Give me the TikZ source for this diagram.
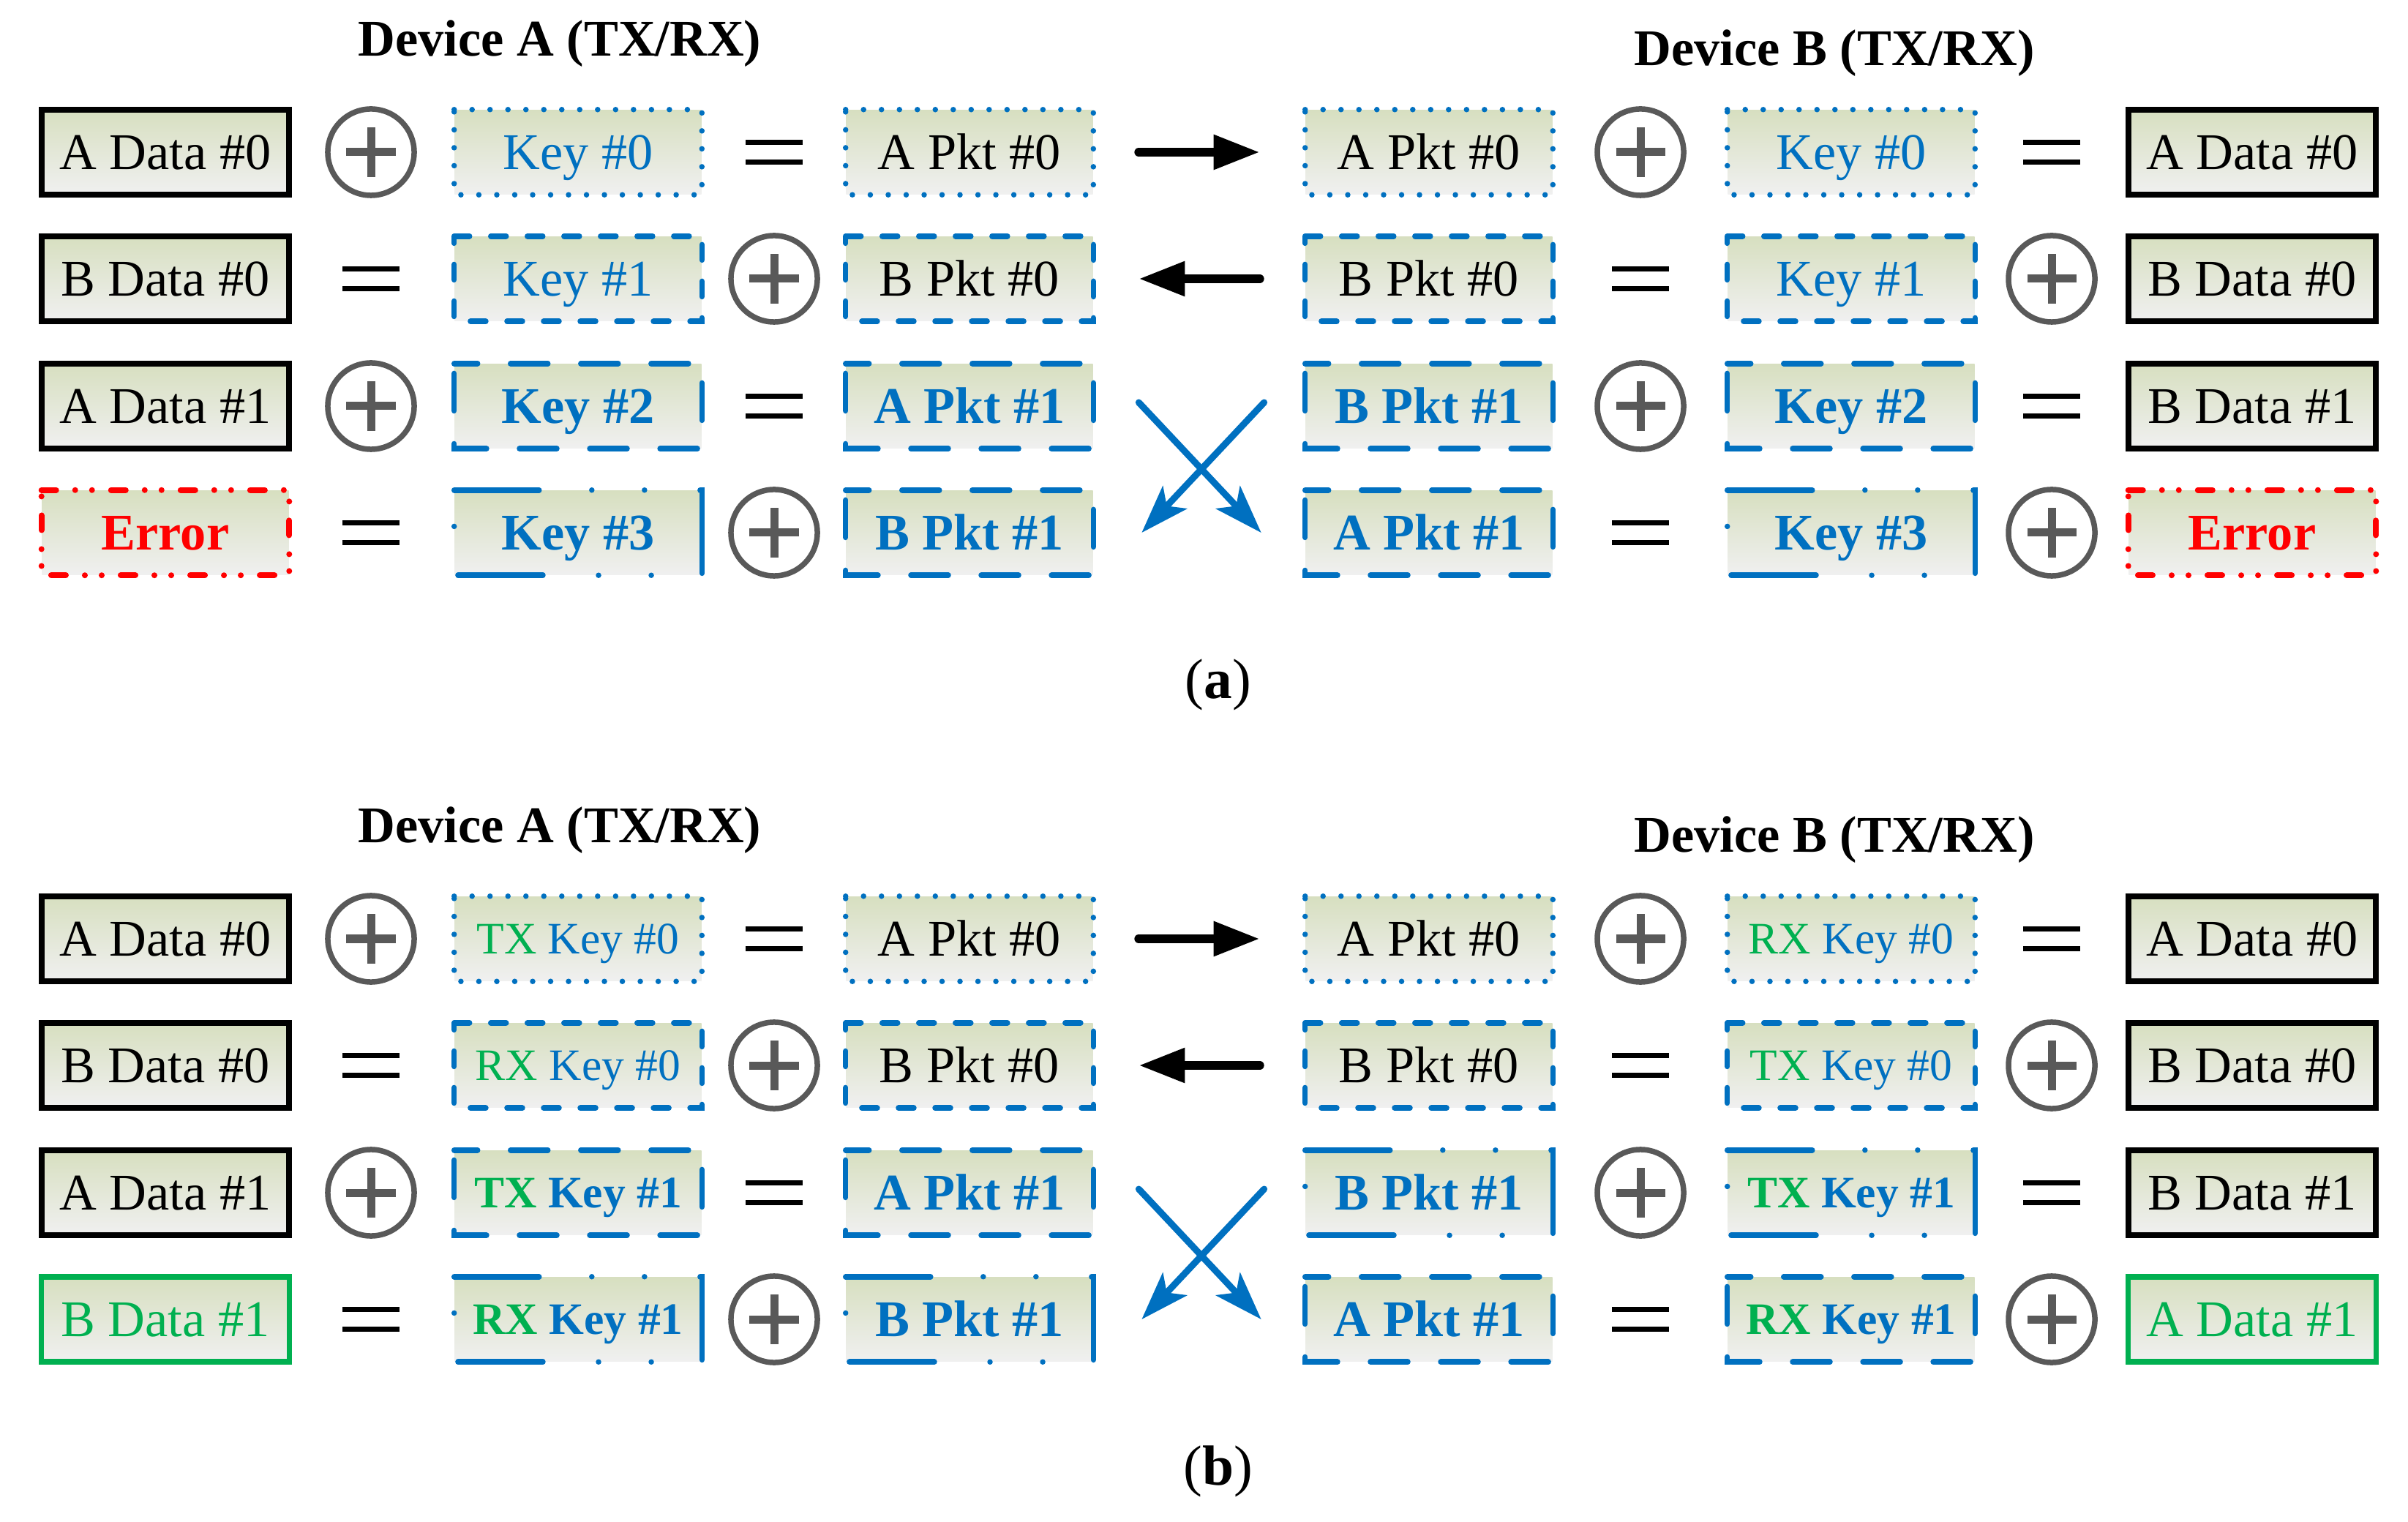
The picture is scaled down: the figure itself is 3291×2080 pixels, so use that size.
\documentclass[tikz,border=0pt]{standalone}
\usepackage{fontspec}
\setmainfont{Liberation Serif}
\usetikzlibrary{arrows.meta,calc}
\definecolor{keyBlue}{HTML}{0070C0}
\definecolor{okGreen}{HTML}{00B050}
\definecolor{errRed}{HTML}{FF0000}
\definecolor{opGrey}{HTML}{595959}
\definecolor{boxTop}{HTML}{D7DFC0}
\definecolor{boxBot}{HTML}{F0F0F0}

\tikzset{
  cellbox/.style={rectangle, inner sep=0pt, minimum width=3.37cm, minimum height=1.15cm,
    text height=0.47cm, text depth=0pt, top color=boxTop, bottom color=boxBot,
    font=\fontsize{20}{24}\selectfont},
  keyText/.style={text=keyBlue},
  boldBlue/.style={text=keyBlue, font=\fontsize{20}{24}\selectfont\bfseries},
  smallKey/.style={text=keyBlue, font=\fontsize{17.5}{21}\selectfont, text height=0.41cm},
  smallKeyBold/.style={text=keyBlue, font=\fontsize{17.5}{21}\selectfont\bfseries, text height=0.41cm},
  errText/.style={text=errRed, font=\fontsize{20}{24}\selectfont\bfseries},
  okText/.style={text=okGreen},
  dataLine/.style={line width=0.08cm, draw=black},
  okLine/.style={line width=0.075cm, draw=okGreen},
  dotLine/.style={line width=0.075cm, draw=keyBlue, line cap=round, dash pattern=on 0pt off 0.245cm},
  shortLine/.style={line width=0.075cm, draw=keyBlue, line cap=round, dash pattern=on 0.21cm off 0.29cm},
  longLine/.style={line width=0.075cm, draw=keyBlue, line cap=round, dash pattern=on 0.51cm off 0.45cm, dash phase=0.19cm},
  ddotLine/.style={line width=0.075cm, draw=keyBlue, line cap=round,
    dash pattern=on 1.16cm off 0.72cm on 0pt off 0.72cm on 0pt off 0.76cm},
  errLine/.style={line width=0.08cm, draw=errRed, line cap=round,
    dash pattern=on 0.2cm off 0.26cm on 0pt off 0.23cm on 0pt off 0.26cm},
  xorOp/.style={circle, inner sep=0pt, minimum size=1.18cm, draw=opGrey, line width=0.075cm},
  eqOp/.style={rectangle, inner sep=0pt, minimum width=0.76cm, minimum height=0.26cm},
  sendArrow/.style={line width=0.12cm, line cap=round, -{Triangle[length=0.63cm, width=0.45cm]},
    shorten <=0.62cm, shorten >=0.62cm},
  crossArrow/.style={keyBlue, line width=0.09cm, line cap=round,
    -{Stealth[length=0.66cm, width=0.45cm, inset=0.16cm]}},
  devTitle/.style={font=\fontsize{20}{24}\selectfont\bfseries, anchor=base},
  subCap/.style={font=\fontsize{22}{26}\selectfont},
}

% shaded box, border traced clockwise from its top-left corner
\newcommand{\cellnode}[5][]{%
  \node[cellbox,#1] (#2) at (#3) {#5};
  \draw[#4] (#2.north west) -- (#2.north east) -- (#2.south east)
    -- (#2.south west) -- cycle;}
\newcommand{\opXor}[2]{%
  \node[xorOp] (#1) at (#2) {};
  \draw[opGrey, line width=0.11cm] (#1.center) ++(-0.335cm,0pt) -- ++(0.67cm,0pt);
  \draw[opGrey, line width=0.11cm] (#1.center) ++(0pt,-0.335cm) -- ++(0pt,0.67cm);}
\newcommand{\opEq}[2]{%
  \node[eqOp] (#1) at (#2) {};
  \draw[line width=0.075cm] (#1.north west) -- (#1.north east);
  \draw[line width=0.075cm] (#1.south west) -- (#1.south east);}

\begin{document}
\begin{tikzpicture}[x=0.01cm, y=-0.01cm]
\useasboundingbox (0,0) rectangle (3291,2080);

% --- COLUMN CENTRES (px of the 3291 x 2080 canvas) ---
\def\xDa{226}  \def\xOa{507}  \def\xKa{790}  \def\xOb{1058} \def\xPa{1325}
\def\xPb{1953} \def\xOc{2242} \def\xKb{2530} \def\xOd{2804} \def\xDb{3078}

% --- PARTS (a) AND (b): shared layout ---
\foreach \p/\dy/\bpk in {a/0/longLine, b/1075/ddotLine} {
  \node[devTitle] (\p-devA) at (765, 77+\dy) {Device A (TX/RX)};
  \node[devTitle] (\p-devB) at (2507, 90+\dy) {Device B (TX/RX)};
  \node[subCap] (\p-cap) at (1665, 936+\dy) {(\textbf{\p})};

  % operators: XOR and EQUAL swap places row by row
  \foreach \r/\y in {1/208, 2/381, 3/555, 4/728} {
    \ifodd\r
      \opXor{\p-opL\r}{\xOa, \y+\dy} \opEq{\p-eqL\r}{\xOb, \y+\dy}
      \opXor{\p-opR\r}{\xOc, \y+\dy} \opEq{\p-eqR\r}{\xOd, \y+\dy}
    \else
      \opEq{\p-eqL\r}{\xOa, \y+\dy} \opXor{\p-opL\r}{\xOb, \y+\dy}
      \opEq{\p-eqR\r}{\xOc, \y+\dy} \opXor{\p-opR\r}{\xOd, \y+\dy}
    \fi
  }

  % data
  \cellnode{\p-dataL1}{\xDa, 208+\dy}{dataLine}{A Data \#0}
  \cellnode{\p-dataL2}{\xDa, 381+\dy}{dataLine}{B Data \#0}
  \cellnode{\p-dataL3}{\xDa, 555+\dy}{dataLine}{A Data \#1}
  \cellnode{\p-dataR1}{\xDb, 208+\dy}{dataLine}{A Data \#0}
  \cellnode{\p-dataR2}{\xDb, 381+\dy}{dataLine}{B Data \#0}
  \cellnode{\p-dataR3}{\xDb, 555+\dy}{dataLine}{B Data \#1}

  % packets
  \cellnode{\p-pktL1}{\xPa, 208+\dy}{dotLine}{A Pkt \#0}
  \cellnode{\p-pktR1}{\xPb, 208+\dy}{dotLine}{A Pkt \#0}
  \cellnode{\p-pktL2}{\xPa, 381+\dy}{shortLine}{B Pkt \#0}
  \cellnode{\p-pktR2}{\xPb, 381+\dy}{shortLine}{B Pkt \#0}
  \cellnode[boldBlue]{\p-pktL3}{\xPa, 555+\dy}{longLine}{A Pkt \#1}
  \cellnode[boldBlue]{\p-pktR3}{\xPb, 555+\dy}{\bpk}{B Pkt \#1}
  \cellnode[boldBlue]{\p-pktL4}{\xPa, 728+\dy}{\bpk}{B Pkt \#1}
  \cellnode[boldBlue]{\p-pktR4}{\xPb, 728+\dy}{longLine}{A Pkt \#1}

  % links
  \draw[sendArrow] (\p-pktL1.east) -- (\p-pktR1.west);
  \draw[sendArrow] (\p-pktR2.west) -- (\p-pktL2.east);
  \coordinate (\p-xA0) at ($(\p-pktL3.east)+(0.62cm,0.05cm)$);
  \coordinate (\p-xA1) at ($(\p-pktR4.west)+(-0.60cm,0pt)$);
  \coordinate (\p-xB0) at ($(\p-pktR3.west)+(-0.56cm,0.05cm)$);
  \coordinate (\p-xB1) at ($(\p-pktL4.east)+(0.66cm,0pt)$);
  \draw[crossArrow] (\p-xA0) -- (\p-xA1);
  \draw[crossArrow] (\p-xB0) -- (\p-xB1);
}

% --- (a) KEYS + LAST ROW ---
\cellnode[keyText]{a-keyL1}{\xKa, 208}{dotLine}{Key \#0}
\cellnode[keyText]{a-keyL2}{\xKa, 381}{shortLine}{Key \#1}
\cellnode[boldBlue]{a-keyL3}{\xKa, 555}{longLine}{Key \#2}
\cellnode[boldBlue]{a-keyL4}{\xKa, 728}{ddotLine}{Key \#3}
\cellnode[keyText]{a-keyR1}{\xKb, 208}{dotLine}{Key \#0}
\cellnode[keyText]{a-keyR2}{\xKb, 381}{shortLine}{Key \#1}
\cellnode[boldBlue]{a-keyR3}{\xKb, 555}{longLine}{Key \#2}
\cellnode[boldBlue]{a-keyR4}{\xKb, 728}{ddotLine}{Key \#3}
\cellnode[errText]{a-dataL4}{\xDa, 728}{errLine}{Error}
\cellnode[errText]{a-dataR4}{\xDb, 728}{errLine}{Error}

% --- (b) KEYS + LAST ROW ---
\cellnode[smallKey]{b-keyL1}{\xKa, 1283}{dotLine}{\textcolor{okGreen}{TX} Key \#0}
\cellnode[smallKey]{b-keyL2}{\xKa, 1456}{shortLine}{\textcolor{okGreen}{RX} Key \#0}
\cellnode[smallKeyBold]{b-keyL3}{\xKa, 1630}{longLine}{\textcolor{okGreen}{TX} Key \#1}
\cellnode[smallKeyBold]{b-keyL4}{\xKa, 1803}{ddotLine}{\textcolor{okGreen}{RX} Key \#1}
\cellnode[smallKey]{b-keyR1}{\xKb, 1283}{dotLine}{\textcolor{okGreen}{RX} Key \#0}
\cellnode[smallKey]{b-keyR2}{\xKb, 1456}{shortLine}{\textcolor{okGreen}{TX} Key \#0}
\cellnode[smallKeyBold]{b-keyR3}{\xKb, 1630}{ddotLine}{\textcolor{okGreen}{TX} Key \#1}
\cellnode[smallKeyBold]{b-keyR4}{\xKb, 1803}{longLine}{\textcolor{okGreen}{RX} Key \#1}
\cellnode[okText]{b-dataL4}{\xDa, 1803}{okLine}{B Data \#1}
\cellnode[okText]{b-dataR4}{\xDb, 1803}{okLine}{A Data \#1}

\end{tikzpicture}
\end{document}
